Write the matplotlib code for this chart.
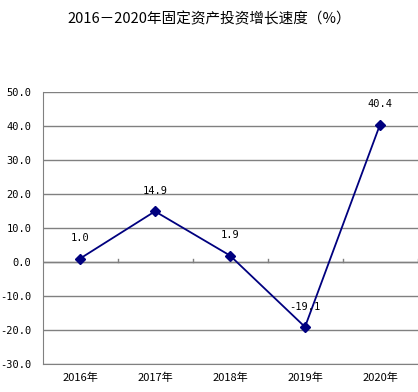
import matplotlib.pyplot as plt

plt.rcParams['font.family'] = ['Noto Sans CJK SC', 'DejaVu Sans']

years = ['2016年', '2017年', '2018年', '2019年', '2020年']
growth = [1.0, 14.9, 1.9, -19.1, 40.4]
yticks = [-30, -20, -10, 0, 10, 20, 30, 40, 50]

fig = plt.figure(figsize=(4.18, 3.92), dpi=100)
ax = fig.add_axes([42.5 / 418, 1 - 364 / 392, 375 / 418, 272 / 392])

x = list(range(len(years)))
ax.plot(x, growth, color='#00007f', lw=1.3, marker='D', ms=5.5,
        markerfacecolor='#00007f', markeredgecolor='#00007f', zorder=3)
for xi, v in zip(x, growth):
    ax.annotate('%.1f' % v, (xi, v), xytext=(0, 11), textcoords='offset points',
                ha='center', va='bottom', fontsize=7.5, family='DejaVu Sans Mono')

ax.set_xlim(-0.5, len(years) - 0.5)
ax.set_ylim(-30, 50)
ax.set_yticks(yticks)
ax.set_yticklabels(['%.1f' % t for t in yticks], fontsize=7.5,
                   family='DejaVu Sans Mono')
ax.yaxis.grid(True, color='#808080', lw=1)
ax.set_axisbelow(True)
ax.tick_params(axis='y', length=0, pad=8)

# category labels below the plot, category tick marks on the zero line
ax.set_xticks(x)
ax.set_xticklabels(years, fontsize=8)
ax.tick_params(axis='x', length=0, pad=6)
ax.axhline(0, color='#808080', lw=1)
for b in [0.5, 1.5, 2.5, 3.5, 4.5]:
    ax.plot([b, b], [0, 1.0], color='#808080', lw=1, clip_on=False)

for s in ['top', 'right']:
    ax.spines[s].set_visible(False)
ax.spines['left'].set_color('#808080')
ax.spines['bottom'].set_color('#808080')

fig.suptitle('2016－2020年固定资产投资增长速度（%）', x=0.5, y=1 - 19 / 392,
             va='center', fontsize=10.5)

fig.savefig('out.png', dpi=100)
